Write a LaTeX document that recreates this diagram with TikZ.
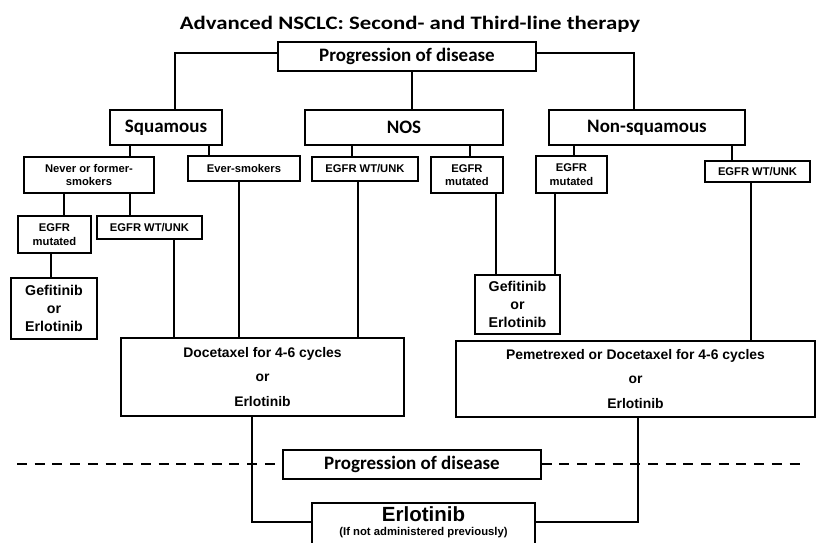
\documentclass[tikz,border=0pt]{standalone}
\usepackage{fontspec}
\setmainfont{Liberation Sans}
\newfontfamily\calfont{Carlito}
\newfontfamily\titlefont[FakeStretch=1.2]{Carlito}
\newfontfamily\arfont{Liberation Sans}
\begin{document}
\begin{tikzpicture}[x=1pt,y=-1pt,
  box/.style={draw, line width=1.4pt, inner sep=0pt, align=center},
  conn/.style={line width=1.1pt},
  dashline/.style={line width=2.7pt, dash pattern=on 10pt off 7.7pt},
  hdr/.style={font=\calfont\bfseries\fontsize{19}{21}\selectfont},
  small/.style={font=\arfont\bfseries\fontsize{11.2}{13.5}\selectfont},
  mid/.style={font=\arfont\bfseries\fontsize{14.2}{18}\selectfont},
  big/.style={font=\arfont\bfseries\fontsize{13.9}{24.5}\selectfont}]
\useasboundingbox (0,0) rectangle (818,542);
\fill[white] (0,0) rectangle (818,542);

\node[font=\titlefont\bfseries\fontsize{19}{22}\selectfont] (title) at (410,24) {Advanced NSCLC: Second- and Third-line therapy};

\node[box, hdr, minimum width=258pt, minimum height=29pt] (prog1) at (407,56.5) {Progression of disease};
\node[box, hdr, minimum width=112pt, minimum height=35pt] (sq) at (166,127.5) {Squamous};
\node[box, hdr, minimum width=198pt, minimum height=35pt] (nos) at (404,127.5) {NOS};
\node[box, hdr, minimum width=196pt, minimum height=35pt] (nsq) at (647,127.5) {Non-squamous};

\node[box, small, minimum width=130pt, minimum height=36pt] (never) at (89,175) {Never or former-\\smokers};
\node[box, small, minimum width=112pt, minimum height=25pt] (ever) at (244,168.5) {Ever-smokers};
\node[box, small, minimum width=106pt, minimum height=24pt] (nosWT) at (365,169) {EGFR WT/UNK};
\node[box, small, minimum width=72pt, minimum height=36pt] (nosMut) at (467,175) {EGFR\\mutated};
\node[box, small, minimum width=71pt, minimum height=37pt] (nsMut) at (571.5,174.5) {EGFR\\mutated};
\node[box, small, minimum width=105pt, minimum height=21pt] (nsWT) at (757.5,171.5) {EGFR WT/UNK};

\node[box, small, minimum width=73pt, minimum height=37pt] (sqMut) at (54.5,234.5) {EGFR\\mutated};
\node[box, small, minimum width=105pt, minimum height=23pt] (sqWT) at (149.5,227.5) {EGFR WT/UNK};

\node[box, mid, minimum width=86pt, minimum height=61pt] (gefL) at (54,308.5) {Gefitinib\\or\\Erlotinib};
\node[box, mid, minimum width=85pt, minimum height=59pt] (gefM) at (517.5,304.5) {Gefitinib\\or\\Erlotinib};

\node[box, big, minimum width=283pt, minimum height=78pt] (doc) at (262.5,377) {Docetaxel for 4-6 cycles\\or\\Erlotinib};
\node[box, big, minimum width=359pt, minimum height=76pt] (pem) at (635.5,379) {Pemetrexed or Docetaxel for 4-6 cycles\\or\\Erlotinib};

\node[box, hdr, minimum width=258pt, minimum height=29pt] (prog2) at (412,464.5) {Progression of disease};
\node[box, minimum width=223pt, minimum height=42pt] (erl) at (423.5,524) {};
\node[font=\arfont\bfseries\fontsize{20.5}{22}\selectfont] (erlt) at (423.5,514) {Erlotinib};
\node[font=\arfont\bfseries\fontsize{11.3}{12}\selectfont] (erls) at (423.5,532.5) {(If not administered previously)};

% elbow connectors
\coordinate (e1) at (175,53);
\draw[conn] (e1 -| prog1.west) -- (e1) -- (e1 |- sq.north);
\coordinate (e2) at (634,53);
\draw[conn] (e2 -| prog1.east) -- (e2) -- (e2 |- nsq.north);
\coordinate (e3) at (252,522);
\draw[conn] (e3 |- doc.south) -- (e3) -- (e3 -| erl.west);
\coordinate (e4) at (638,522);
\draw[conn] (e4 |- pem.south) -- (e4) -- (e4 -| erl.east);

% vertical connectors
\coordinate (v1) at (412,0);  \draw[conn] (v1 |- prog1.south) -- (v1 |- nos.north);
\coordinate (v2) at (130,0);  \draw[conn] (v2 |- sq.south) -- (v2 |- never.north);
\coordinate (v3) at (209,0);  \draw[conn] (v3 |- sq.south) -- (v3 |- ever.north);
\coordinate (v4) at (352,0);  \draw[conn] (v4 |- nos.south) -- (v4 |- nosWT.north);
\coordinate (v5) at (470,0);  \draw[conn] (v5 |- nos.south) -- (v5 |- nosMut.north);
\coordinate (v6) at (574,0);  \draw[conn] (v6 |- nsq.south) -- (v6 |- nsMut.north);
\coordinate (v7) at (732,0);  \draw[conn] (v7 |- nsq.south) -- (v7 |- nsWT.north);
\coordinate (v8) at (64,0);   \draw[conn] (v8 |- never.south) -- (v8 |- sqMut.north);
\coordinate (v9) at (130,0);  \draw[conn] (v9 |- never.south) -- (v9 |- sqWT.north);
\coordinate (v10) at (51,0);  \draw[conn] (v10 |- sqMut.south) -- (v10 |- gefL.north);
\coordinate (v11) at (496,0); \draw[conn] (v11 |- nosMut.south) -- (v11 |- gefM.north);
\coordinate (v12) at (555,0); \draw[conn] (v12 |- nsMut.south) -- (v12 |- gefM.north);
\coordinate (v13) at (174,0); \draw[conn] (v13 |- sqWT.south) -- (v13 |- doc.north);
\coordinate (v14) at (239,0); \draw[conn] (v14 |- ever.south) -- (v14 |- doc.north);
\coordinate (v15) at (358,0); \draw[conn] (v15 |- nosWT.south) -- (v15 |- doc.north);
\coordinate (v16) at (751,0); \draw[conn] (v16 |- nsWT.south) -- (v16 |- pem.north);

% dashed line
\coordinate (dl) at (17,464);
\coordinate (dr) at (805,464);
\draw[dashline] (dl) -- (dl -| prog2.west);
\draw[dashline] (dr -| prog2.east) -- (dr);
\end{tikzpicture}
\end{document}
